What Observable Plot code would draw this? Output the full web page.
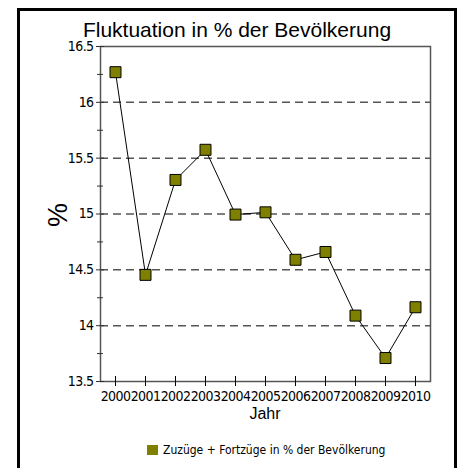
<!DOCTYPE html>
<html>
<head>
<meta charset="utf-8">
<script src="https://cdn.jsdelivr.net/npm/d3@7"></script>
<script src="https://cdn.jsdelivr.net/npm/@observablehq/plot@0.6"></script>
<style>
  html, body { margin: 0; padding: 0; background: #fff; }
  #wrap { position: relative; width: 457px; height: 468px; overflow: hidden; background: #fff; }
  #border { position: absolute; left: 17px; top: 8px; width: 440px; height: 480px; box-sizing: border-box; border: 3px solid #000; }
  #title { position: absolute; left: 17px; width: 440px; top: 18px; text-align: center; font-family: "Liberation Sans", Arial, sans-serif; font-size: 21px; color: #000; line-height: 24px; white-space: nowrap; }
  #ylab { position: absolute; left: 58px; top: 215px; transform: translate(-50%, -50%) rotate(-90deg); font-family: "Liberation Sans", Arial, sans-serif; font-size: 27px; line-height: 27px; }
  #xlab { position: absolute; left: 265px; top: 405px; transform: translateX(-50%); font-family: "Liberation Sans", Arial, sans-serif; font-size: 16px; line-height: 18px; }
  #legend { position: absolute; left: 147px; top: 443px; font-size: 13px; display: flex; align-items: center; gap: 5px; white-space: nowrap; }
  #legend .sw { width: 11px; height: 10px; background: #808000; display: inline-block; }
  svg { position: absolute; left: 0; top: 0; }
</style>
</head>
<body>
<div id="wrap">
  <div id="border"></div>
  <div id="chart"></div>
  <div id="title">Fluktuation in % der Bevölkerung</div>
  <div id="ylab">%</div>
  <div id="xlab">Jahr</div>
  <div id="legend"><span class="sw"></span><span id="legtext"></span></div>
</div>
<script>
const years = [2000, 2001, 2002, 2003, 2004, 2005, 2006, 2007, 2008, 2009, 2010];
const values = [16.27, 14.455, 15.305, 15.575, 14.995, 15.015, 14.59, 14.66, 14.09, 13.71, 14.165];
const yMajorTicks = [13.5, 14, 14.5, 15, 15.5, 16, 16.5];
const yMinorTicks = [13.75, 14.25, 14.75, 15.25, 15.75, 16.25];
const gridValues = [14, 14.5, 15, 15.5, 16];
const seriesName = "Zuzüge + Fortzüge in % der Bevölkerung";

// pick an available condensed font
const ctx = document.createElement("canvas").getContext("2d");
function w(font) { ctx.font = "20px " + font; return ctx.measureText("2000 Zuzüge Bevölkerung").width; }
const candidates = ["'Liberation Sans Narrow'", "'Arial Narrow'", "'DejaVu Sans Condensed'", "'Roboto Condensed'", "'Open Sans Condensed'"];
let narrow = null;
for (const c of candidates) {
  if (w(c + ", monospace") !== w("monospace") || w(c + ", serif") !== w("serif")) { narrow = c; break; }
}
let fam, tickSizePx, letterSp, legSize;
if (narrow === "'Liberation Sans Narrow'" || narrow === "'Arial Narrow'" || narrow === "'Roboto Condensed'") {
  fam = narrow + ", sans-serif"; tickSizePx = 15; letterSp = "0px"; legSize = 13;
} else if (narrow) {
  fam = narrow + ", sans-serif"; tickSizePx = 14; letterSp = "-0.6px"; legSize = 12;
} else {
  fam = "'Liberation Sans', Arial, sans-serif"; tickSizePx = 13; letterSp = "-0.6px"; legSize = 12;
}

const leg = document.getElementById("legend");
leg.style.fontFamily = fam;
leg.style.fontSize = legSize + "px";
leg.style.letterSpacing = narrow ? "0px" : "-0.25px";
document.getElementById("legtext").textContent = seriesName;

const data = years.map((y, i) => ({year: y, value: values[i]}));

const chart = Plot.plot({
  width: 457,
  height: 430,
  marginLeft: 100,
  marginRight: 27,
  marginTop: 46,
  marginBottom: 49,
  style: {fontFamily: fam, fontSize: tickSizePx + "px", letterSpacing: letterSp, color: "#000", background: "transparent", overflow: "visible"},
  x: {type: "point", domain: years, padding: 0.5, label: null},
  y: {domain: [13.5, 16.5], label: null},
  marks: [
    Plot.ruleY(gridValues, {stroke: "#555", strokeWidth: 1.5, strokeDasharray: "8,5"}),
    Plot.frame({stroke: "#555", strokeWidth: 1.5}),
    Plot.axisY(yMinorTicks, {tickSize: 6, dx: 3, tickFormat: () => "", stroke: "#333"}),
    Plot.axisY(yMajorTicks, {tickSize: 8, dx: 4, tickPadding: 3, tickFormat: d => String(d), stroke: "#333", fill: "#000"}),
    Plot.axisX(years, {tickSize: 10, dy: -5, tickPadding: 5, tickFormat: d => String(d), stroke: "#000", fill: "#000"}),
    Plot.line(data, {x: "year", y: "value", stroke: "#000", strokeWidth: 1}),
    Plot.dot(data, {x: "year", y: "value", symbol: "square", r: 6.2, fill: "#808000", stroke: "#000", strokeWidth: 1, title: () => seriesName})
  ]
});
document.getElementById("chart").appendChild(chart);
</script>
</body>
</html>
